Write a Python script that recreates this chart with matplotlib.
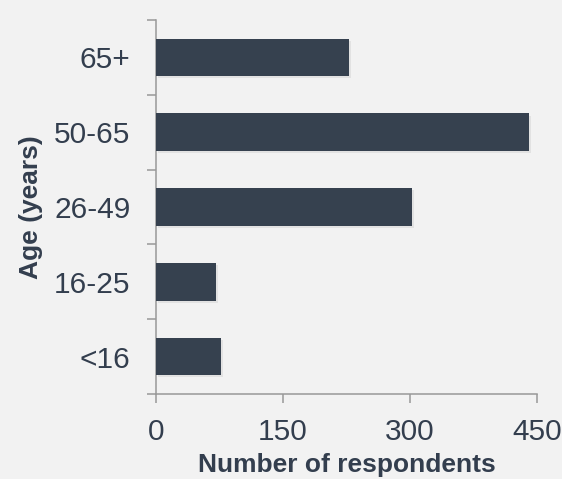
import numpy as np
import matplotlib
matplotlib.use("Agg")
import matplotlib.pyplot as plt
import matplotlib.patheffects as pe

plt.rcParams['font.family'] = ['Liberation Sans', 'DejaVu Sans']

categories = ['<16', '16-25', '26-49', '50-65', '65+']
values = [77, 71, 302, 440, 228]
xticks = [0, 150, 300, 450]

BG = '#f2f2f2'
BAR = '#36414f'
TXT = '#333e4e'
AX = '#999999'

fig = plt.figure(figsize=(5.62, 4.79), dpi=100, facecolor=BG)
ax = fig.add_axes([156 / 562, 85 / 479, 381 / 562, 374 / 479])
ax.set_facecolor(BG)

bars = ax.barh(np.arange(len(categories)), values, height=0.5, color=BAR, zorder=3)
for b in bars:
    b.set_path_effects([pe.SimplePatchShadow(offset=(1.5, -1.5), shadow_rgbFace='#888888', alpha=0.15), pe.Normal()])

for s in ['top', 'right']:
    ax.spines[s].set_visible(False)
for s in ['left', 'bottom']:
    ax.spines[s].set_color(AX)
    ax.spines[s].set_linewidth(1.1)

ax.set_xlim(0, 450)
ax.set_ylim(-0.5, len(categories) - 0.5)
ax.set_xticks(xticks)
ax.set_xticklabels([str(t) for t in xticks])
ax.set_yticks(np.arange(len(categories)))
ax.set_yticklabels(categories)
ax.set_yticks(np.arange(-0.5, len(categories), 1.0), minor=True)

ax.tick_params(axis='y', which='major', length=0, pad=18.5, labelsize=21.5, labelcolor=TXT)
ax.tick_params(axis='y', which='minor', length=6.3, width=1.1, color=AX)
ax.tick_params(axis='x', which='major', length=6.5, width=1.1, color=AX, pad=10.5,
               labelsize=21.5, labelcolor=TXT)

ax.set_xlabel('Number of respondents', fontsize=19, fontweight='bold', color=TXT, labelpad=5)
ax.set_ylabel('Age (years)', fontsize=19, fontweight='bold', color=TXT, labelpad=8)

fig.savefig('out.png', dpi=100, facecolor=BG)
